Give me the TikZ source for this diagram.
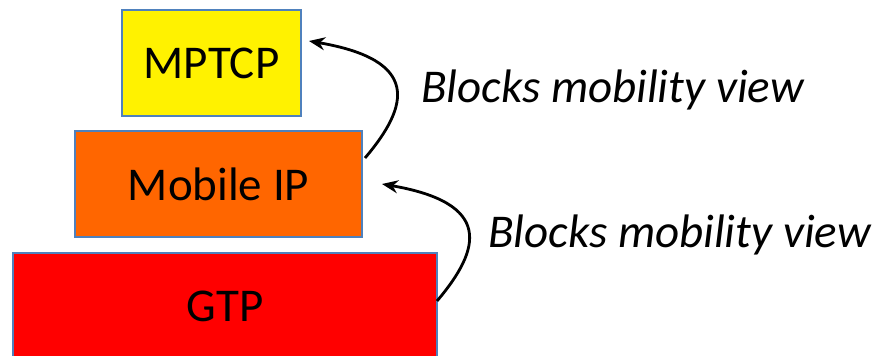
\documentclass[tikz,border=0pt]{standalone}
\usepackage{fontspec}
\setmainfont{Carlito}
\usetikzlibrary{arrows.meta}
\definecolor{layerborder}{HTML}{4F81BD}
\definecolor{mipfill}{HTML}{FF6600}
\tikzset{
  layer/.style={draw=layerborder, line width=2pt, inner sep=0pt, font=\fontsize{47}{54}\selectfont},
  viewarrow/.style={line width=2.8pt, -{Stealth[length=16pt,width=13pt]}},
  note/.style={font=\fontsize{47}{54}\selectfont\itshape, inner sep=0pt}
}
\begin{document}
\begin{tikzpicture}[x=1pt,y=-1pt]
\useasboundingbox (0,0) rectangle (881,356);
\begin{scope}
\clip (0,0) rectangle (881,356);
\node[layer, fill=yellow, minimum width=179pt, minimum height=106pt] (mptcp) at (211.5,63) {MPTCP};
\node[layer, fill=mipfill, minimum width=287pt, minimum height=106pt] (mip) at (218.5,184) {Mobile IP};
\node[layer, fill=red, minimum width=424pt, minimum height=106pt] (gtp) at (225,306) {GTP};
\end{scope}
\coordinate (a1s) at (365,158);
\coordinate (a1e) at (309,41);
\coordinate (a2s) at (437,301);
\coordinate (a2e) at (382,184);
\draw[viewarrow] (a1s) .. controls (410,105) and (420,60) .. (a1e);
\draw[viewarrow] (a2s) .. controls (482,248) and (492,203) .. (a2e);
\node[note, anchor=base west] (n1) at (421,102) {Blocks mobility view};
\node[note, anchor=base west] (n2) at (488,247) {Blocks mobility view};
\end{tikzpicture}
\end{document}
